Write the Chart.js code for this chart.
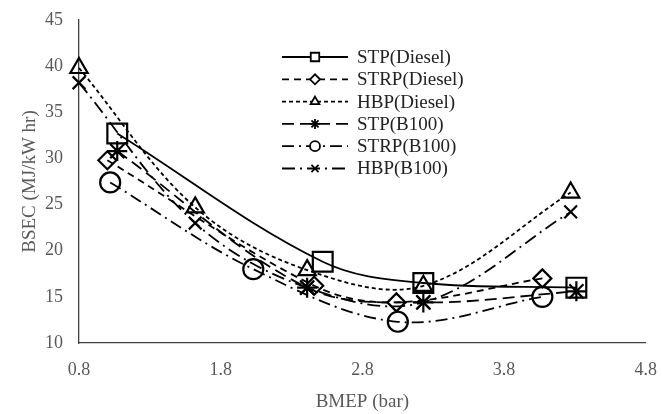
<!DOCTYPE html>
<html>
<head>
<meta charset="utf-8">
<script src="https://cdn.jsdelivr.net/npm/chart.js@4.4.1/dist/chart.umd.min.js"></script>
<style>
html,body{margin:0;padding:0;background:#fff;}
#wrap{width:662px;height:414px;}
</style>
</head>
<body>
<div id="wrap"><canvas id="c" width="662" height="414"></canvas></div>
<script>
// ---- data ----
const seriesNames = ['STP(Diesel)','STRP(Diesel)','HBP(Diesel)','STP(B100)','STRP(B100)','HBP(B100)'];
const stpDieselX  = [1.07, 2.52, 3.23, 4.31];
const stpDieselY  = [32.7, 18.8, 16.5, 16.0];
const strpDieselX = [1.00, 2.46, 3.04, 4.07];
const strpDieselY = [29.8, 16.2, 14.4, 17.0];
const hbpDieselX  = [0.80, 1.62, 2.41, 3.23, 4.27];
const hbpDieselY  = [39.8, 24.7, 17.9, 16.2, 26.3];
const stpB100X    = [1.07, 2.41, 3.23, 4.31];
const stpB100Y    = [30.8, 16.0, 14.4, 15.6];
const strpB100X   = [1.02, 2.03, 3.05, 4.07];
const strpB100Y   = [27.4, 18.0, 12.3, 15.0];
const hbpB100X    = [0.80, 1.62, 2.41, 3.23, 4.27];
const hbpB100Y    = [38.2, 23.0, 16.0, 14.4, 24.2];
const xTickValues = [0.8, 1.8, 2.8, 3.8, 4.8];
const yTickValues = [10, 15, 20, 25, 30, 35, 40, 45];

function pts(xs, ys){ return xs.map((x,i)=>({x:x, y:ys[i]})); }

const styles = [
  {dash:[],            point:'rect',     r:14, lr:6},
  {dash:[7,5],         point:'rectRot',  r:9,  lr:5},
  {dash:[4,3],         point:'triangle', r:10, lr:5},
  {dash:[12,6],        point:'star',     r:10, lr:5},
  {dash:[12,5,2,5],    point:'circle',   r:10, lr:5},
  {dash:[13,5,2,5],    point:'crossRot', r:9,  lr:5}
];
const xs = [stpDieselX, strpDieselX, hbpDieselX, stpB100X, strpB100X, hbpB100X];
const ys = [stpDieselY, strpDieselY, hbpDieselY, stpB100Y, strpB100Y, hbpB100Y];

const datasets = seriesNames.map((name,i)=>({
  label: name,
  data: pts(xs[i], ys[i]),
  borderColor: '#000',
  borderWidth: 1.8,
  borderDash: styles[i].dash,
  pointStyle: styles[i].point,
  pointRadius: styles[i].r,
  pointBorderWidth: 2.2,
  pointBorderColor: '#000',
  pointBackgroundColor: 'rgba(0,0,0,0)',
  fill: false,
  clip: false,
  tension: 0.35,
  legendRadius: styles[i].lr
}));

const FONT = "'Liberation Serif', 'Times New Roman', serif";

const insideLegend = {
  id: 'insideLegend',
  afterDraw(chart){
    const ctx = chart.ctx;
    const x0 = 282, x1 = 348, xm = 315, xt = 357, y0 = 57, dy = 22.3;
    ctx.save();
    chart.data.datasets.forEach((ds, i)=>{
      const y = y0 + i*dy;
      ctx.strokeStyle = '#000';
      ctx.lineWidth = 1.8;
      ctx.setLineDash(ds.borderDash);
      ctx.beginPath(); ctx.moveTo(x0, y); ctx.lineTo(x1, y); ctx.stroke();
      ctx.setLineDash([]);
      ctx.fillStyle = '#fff';
      ctx.strokeStyle = '#000';
      ctx.lineWidth = 1.8;
      Chart.helpers.drawPoint(ctx, {pointStyle: ds.pointStyle, radius: ds.legendRadius, borderWidth: 1.8, rotation: 0}, xm, y);
      ctx.fillStyle = '#222';
      ctx.font = '19px ' + FONT;
      ctx.textBaseline = 'middle';
      ctx.textAlign = 'left';
      ctx.fillText(ds.label, xt, y + 1);
    });
    ctx.restore();
  }
};

new Chart(document.getElementById('c'), {
  type: 'line',
  data: { datasets },
  options: {
    responsive: false,
    animation: false,
    layout: { padding: { top: 20, right: 16, left: 0, bottom: 0 } },
    plugins: { legend: { display: false }, tooltip: { enabled: false } },
    scales: {
      x: {
        type: 'linear', min: 0.8, max: 4.8,
        afterBuildTicks: s => { s.ticks = xTickValues.map(v=>({value:v})); },
        afterFit: s => { s.height = 71; s.paddingLeft = 0; s.paddingRight = 0; },
        grid: { display: false, drawTicks: false },
        border: { display: true, color: '#404040', width: 1.3 },
        ticks: { padding: 16, color: '#595959', font: { family: FONT, size: 18 },
                 callback: v => Number(v).toFixed(1), maxRotation: 0, autoSkip: false },
        title: { display: true, text: 'BMEP (bar)', color: '#595959',
                 font: { family: FONT, size: 19 }, padding: { top: 0, bottom: 1 } }
      },
      y: {
        type: 'linear', min: 10, max: 45,
        afterBuildTicks: s => { s.ticks = yTickValues.map(v=>({value:v})); },
        afterFit: s => { s.width = 79; s.paddingTop = 0; s.paddingBottom = 0; },
        grid: { display: false, drawTicks: false },
        border: { display: true, color: '#404040', width: 1.3 },
        ticks: { padding: 16, color: '#595959', font: { family: FONT, size: 18 }, autoSkip: false },
        title: { display: true, text: 'BSEC (MJ/kW hr)', color: '#595959',
                 font: { family: FONT, size: 19 }, padding: { top: 19, bottom: 0 } }
      }
    }
  },
  plugins: [insideLegend]
});
</script>
</body>
</html>
